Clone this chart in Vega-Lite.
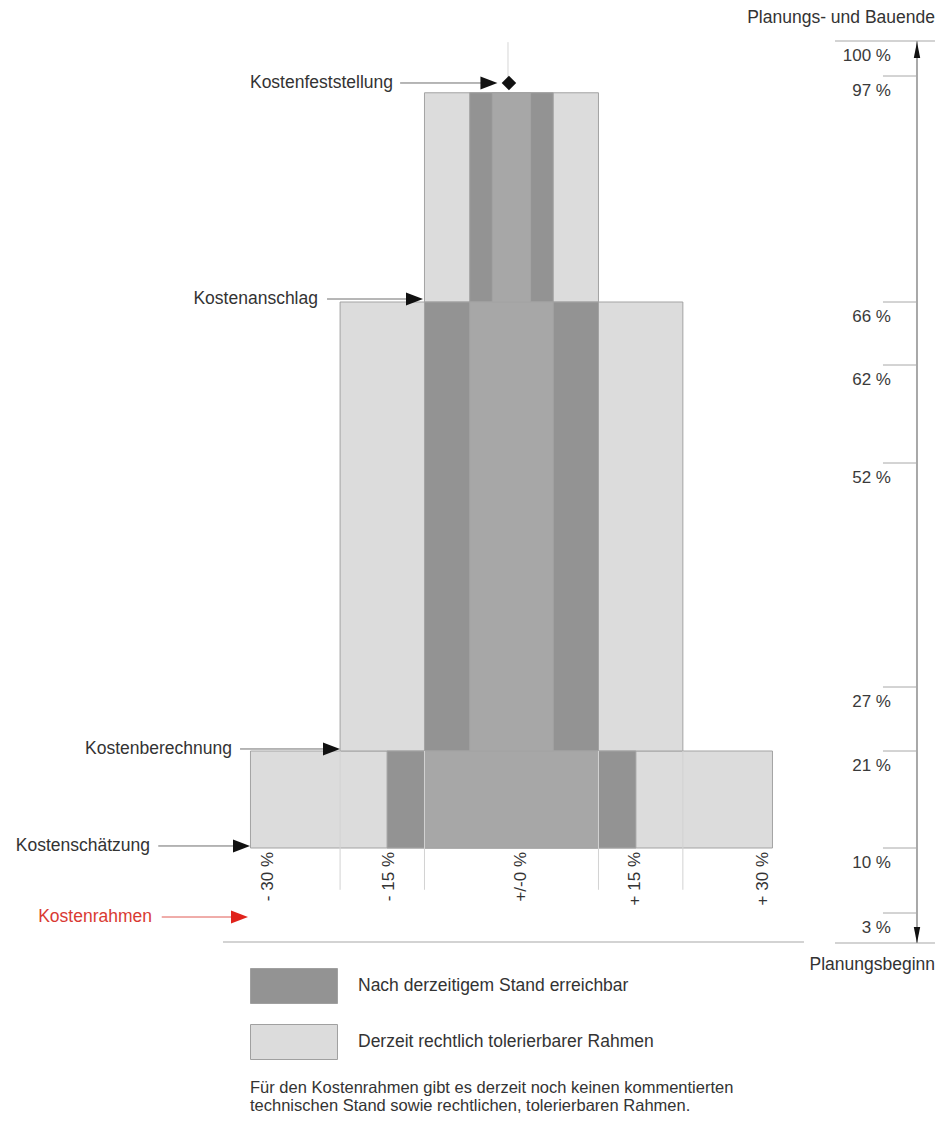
{
  "$schema": "https://vega.github.io/schema/vega-lite/v6.json",
  "width": 941,
  "height": 1121,
  "padding": 0,
  "autosize": {"type": "none"},
  "background": "white",
  "config": {"view": {"stroke": null}},
  "datasets": {
    "boxes": [
      {"stage": "Kostenschätzung", "kind": "Derzeit rechtlich tolerierbarer Rahmen", "x": -30, "x2": 30, "y": 10, "y2": 21},
      {"stage": "Kostenberechnung", "kind": "Derzeit rechtlich tolerierbarer Rahmen", "x": -19.7, "x2": 19.7, "y": 21, "y2": 66},
      {"stage": "Kostenanschlag", "kind": "Derzeit rechtlich tolerierbarer Rahmen", "x": -10, "x2": 10, "y": 66, "y2": 94.7},
      {"stage": "Kostenschätzung", "kind": "Nach derzeitigem Stand erreichbar", "x": -14.3, "x2": 14.3, "y": 10, "y2": 21},
      {"stage": "Kostenberechnung", "kind": "Nach derzeitigem Stand erreichbar", "x": -10, "x2": 10, "y": 21, "y2": 66},
      {"stage": "Kostenanschlag", "kind": "Nach derzeitigem Stand erreichbar", "x": -4.8, "x2": 4.8, "y": 66, "y2": 94.7},
      {"stage": "Kostenschätzung", "kind": "Überlagerung", "x": -10, "x2": 10, "y": 10, "y2": 21},
      {"stage": "Kostenberechnung", "kind": "Überlagerung", "x": -4.8, "x2": 4.8, "y": 21, "y2": 66},
      {"stage": "Kostenanschlag", "kind": "Überlagerung", "x": -2.2, "x2": 2.2, "y": 66, "y2": 94.7}
    ],
    "segments": [
      {"type": "edge", "x": -19.7, "x2": -19.7, "y": 5.5, "y2": 21},
      {"type": "edge", "x": -10, "x2": -10, "y": 5.5, "y2": 21},
      {"type": "edge", "x": 10, "x2": 10, "y": 5.5, "y2": 21},
      {"type": "edge", "x": 19.7, "x2": 19.7, "y": 5.5, "y2": 21},
      {"type": "center", "x": -0.4, "x2": -0.4, "y": 96.1, "y2": 99.9},
      {"type": "arrow", "x": -12.8, "x2": -3.4, "y": 96.04, "y2": 96.04},
      {"type": "arrow", "x": -21.2, "x2": -11.7, "y": 66.41, "y2": 66.41},
      {"type": "arrow", "x": -31.2, "x2": -21.2, "y": 21.19, "y2": 21.19},
      {"type": "arrow", "x": -40.6, "x2": -31.4, "y": 10.23, "y2": 10.23},
      {"type": "arrowred", "x": -40.2, "x2": -31.7, "y": 2.6, "y2": 2.6},
      {"type": "axis", "x": 46.61, "x2": 46.61, "y": 0, "y2": 100},
      {"type": "frame", "x": 37.18, "x2": 48.68, "y": 100, "y2": 100},
      {"type": "frame", "x": 37.18, "x2": 48.68, "y": 0, "y2": 0},
      {"type": "base", "x": -33.16, "x2": 33.62, "y": 0.1, "y2": 0.1}
    ],
    "heads": [
      {"type": "arrow", "stage": "Kostenfeststellung", "x": -2.59, "y": 96.04},
      {"type": "arrow", "stage": "Kostenanschlag", "x": -11.15, "y": 66.41},
      {"type": "arrow", "stage": "Kostenberechnung", "x": -20.69, "y": 21.19},
      {"type": "arrow", "stage": "Kostenschätzung", "x": -31.03, "y": 10.23},
      {"type": "arrowred", "stage": "Kostenrahmen", "x": -31.26, "y": 2.6},
      {"type": "diamond", "stage": "Kostenfeststellung", "x": -0.29, "y": 96.04},
      {"type": "up", "stage": "Planungs- und Bauende", "x": 46.61, "y": 99.23},
      {"type": "down", "stage": "Planungsbeginn", "x": 46.61, "y": 0.8}
    ],
    "stages": [
      {"label": "Kostenfeststellung", "x": -13.62, "y": 96.04, "red": false},
      {"label": "Kostenanschlag", "x": -22.24, "y": 66.41, "red": false},
      {"label": "Kostenberechnung", "x": -32.13, "y": 21.19, "red": false},
      {"label": "Kostenschätzung", "x": -41.55, "y": 10.23, "red": false},
      {"label": "Kostenrahmen", "x": -41.32, "y": 2.6, "red": true}
    ],
    "phases": [
      {"label": "100 %", "x": 43.62, "y": 100},
      {"label": "97 %", "x": 43.62, "y": 97},
      {"label": "66 %", "x": 43.62, "y": 66},
      {"label": "62 %", "x": 43.62, "y": 62},
      {"label": "52 %", "x": 43.62, "y": 52},
      {"label": "27 %", "x": 43.62, "y": 27},
      {"label": "21 %", "x": 43.62, "y": 21},
      {"label": "10 %", "x": 43.62, "y": 10},
      {"label": "3 %", "x": 43.62, "y": 3}
    ],
    "ticks": [
      {"x": 42.7, "x2": 46.61, "y": 97},
      {"x": 42.7, "x2": 46.61, "y": 66},
      {"x": 42.7, "x2": 46.61, "y": 62},
      {"x": 42.7, "x2": 46.61, "y": 52},
      {"x": 42.7, "x2": 46.61, "y": 27},
      {"x": 42.7, "x2": 46.61, "y": 21},
      {"x": 42.7, "x2": 46.61, "y": 10},
      {"x": 42.7, "x2": 46.61, "y": 3}
    ],
    "ends": [
      {"label": "Planungs- und Bauende", "x": 48.68, "y": 103.4},
      {"label": "Planungsbeginn", "x": 48.68, "y": -2.22}
    ],
    "deviation": [
      {"label": "- 30 %", "x": -27.99, "y": 9.57},
      {"label": "- 15 %", "x": -14.08, "y": 9.57},
      {"label": "+/-0 %", "x": 1.09, "y": 9.57},
      {"label": "+ 15 %", "x": 14.2, "y": 9.57},
      {"label": "+ 30 %", "x": 28.9, "y": 9.57}
    ]
  },
  "encoding": {
    "x": {"field": "x", "type": "quantitative", "axis": null,
          "scale": {"domain": [-58.79, 49.37], "nice": false, "zero": false}},
    "y": {"field": "y", "type": "quantitative", "axis": null,
          "scale": {"domain": [-18, 0, 3, 10, 21, 27, 52, 62, 66, 97, 100, 106],
                    "range": [1121, 943, 913, 848, 751, 687, 463, 365, 302, 76, 41, 0],
                    "nice": false, "zero": false}}
  },
  "layer": [
    {
      "data": {"name": "boxes"},
      "mark": {"type": "rect", "stroke": "#a3a3a3", "strokeWidth": 1, "opacity": 1},
      "encoding": {
        "x2": {"field": "x2"},
        "y2": {"field": "y2"},
        "fill": {
          "field": "kind", "type": "nominal",
          "scale": {"domain": ["Nach derzeitigem Stand erreichbar", "Derzeit rechtlich tolerierbarer Rahmen", "Überlagerung"],
                    "range": ["#939393", "#dcdcdc", "#a7a7a7"]},
          "legend": {
            "values": ["Nach derzeitigem Stand erreichbar", "Derzeit rechtlich tolerierbarer Rahmen"],
            "orient": "none", "legendX": 250, "legendY": 968,
            "title": ["Für den Kostenrahmen gibt es derzeit noch keinen kommentierten", "technischen Stand sowie rechtlichen, tolerierbaren Rahmen."],
            "titleOrient": "bottom", "titleAnchor": "start", "titleFont": "Liberation Sans",
            "titleFontSize": 16.5, "titleFontWeight": "normal", "titleColor": "#333333",
            "titleLimit": 0, "titlePadding": 18, "titleLineHeight": 17.5,
            "symbolType": "M-1,-1H3.971V1H-1Z", "symbolSize": 1225,
            "symbolStrokeColor": "#a0a0a0", "symbolStrokeWidth": 1, "symbolOpacity": 1,
            "labelFont": "Liberation Sans", "labelFontSize": 17.5, "labelColor": "#333333",
            "labelOffset": 72, "labelLimit": 0, "rowPadding": 16
          }
        }
      }
    },
    {
      "data": {"name": "segments"},
      "transform": [{"filter": "datum.type == 'edge'"}],
      "mark": {"type": "rule", "color": "#d2d2d2", "strokeWidth": 1},
      "encoding": {"x2": {"field": "x2"}, "y2": {"field": "y2"}}
    },
    {
      "data": {"name": "segments"},
      "transform": [{"filter": "datum.type == 'center'"}],
      "mark": {"type": "rule", "color": "#d6d6d6", "strokeWidth": 1},
      "encoding": {"x2": {"field": "x2"}, "y2": {"field": "y2"}}
    },
    {
      "data": {"name": "segments"},
      "transform": [{"filter": "datum.type == 'arrow'"}],
      "mark": {"type": "rule", "color": "#6e6e6e", "strokeWidth": 1},
      "encoding": {"x2": {"field": "x2"}, "y2": {"field": "y2"}}
    },
    {
      "data": {"name": "segments"},
      "transform": [{"filter": "datum.type == 'arrowred'"}],
      "mark": {"type": "rule", "color": "#e05a55", "strokeWidth": 1},
      "encoding": {"x2": {"field": "x2"}, "y2": {"field": "y2"}}
    },
    {
      "data": {"name": "segments"},
      "transform": [{"filter": "datum.type == 'axis'"}],
      "mark": {"type": "rule", "color": "#a8a8a8", "strokeWidth": 2},
      "encoding": {"x2": {"field": "x2"}, "y2": {"field": "y2"}}
    },
    {
      "data": {"name": "segments"},
      "transform": [{"filter": "datum.type == 'frame' || datum.type == 'base'"}],
      "mark": {"type": "rule", "color": "#a8a8a8", "strokeWidth": 1.2},
      "encoding": {"x2": {"field": "x2"}, "y2": {"field": "y2"}}
    },
    {
      "data": {"name": "ticks"},
      "mark": {"type": "rule", "color": "#a8a8a8", "strokeWidth": 1},
      "encoding": {"x2": {"field": "x2"}}
    },
    {
      "data": {"name": "heads"},
      "transform": [{"filter": "datum.type == 'arrow'"}],
      "mark": {"type": "point", "shape": "M-1,-0.76L1,0L-1,0.76Z", "size": 289, "filled": true, "color": "#111111", "opacity": 1}
    },
    {
      "data": {"name": "heads"},
      "transform": [{"filter": "datum.type == 'arrowred'"}],
      "mark": {"type": "point", "shape": "M-1,-0.76L1,0L-1,0.76Z", "size": 289, "filled": true, "color": "#e0231c", "opacity": 1}
    },
    {
      "data": {"name": "heads"},
      "transform": [{"filter": "datum.type == 'diamond'"}],
      "mark": {"type": "point", "shape": "diamond", "size": 210, "filled": true, "color": "#111111", "opacity": 1}
    },
    {
      "data": {"name": "heads"},
      "transform": [{"filter": "datum.type == 'up'"}],
      "mark": {"type": "point", "shape": "M0,-1L0.4,1L-0.4,1Z", "size": 256, "filled": true, "color": "#111111", "opacity": 1}
    },
    {
      "data": {"name": "heads"},
      "transform": [{"filter": "datum.type == 'down'"}],
      "mark": {"type": "point", "shape": "M0,1L0.4,-1L-0.4,-1Z", "size": 256, "filled": true, "color": "#111111", "opacity": 1}
    },
    {
      "data": {"name": "stages"},
      "mark": {"type": "text", "align": "right", "baseline": "middle", "font": "Liberation Sans", "fontSize": 17.5},
      "encoding": {
        "text": {"field": "label"},
        "color": {"condition": {"test": "datum.red", "value": "#d93a33"}, "value": "#333333"}
      }
    },
    {
      "data": {"name": "phases"},
      "mark": {"type": "text", "align": "right", "baseline": "middle", "dy": 15, "font": "Liberation Sans", "fontSize": 17, "color": "#3a3a3a"},
      "encoding": {"text": {"field": "label"}}
    },
    {
      "data": {"name": "ends"},
      "mark": {"type": "text", "align": "right", "baseline": "middle", "font": "Liberation Sans", "fontSize": 17.5, "color": "#333333"},
      "encoding": {"text": {"field": "label"}}
    },
    {
      "data": {"name": "deviation"},
      "mark": {"type": "text", "align": "right", "baseline": "middle", "angle": 270, "font": "Liberation Sans", "fontSize": 17, "color": "#333333"},
      "encoding": {"text": {"field": "label"}}
    }
  ]
}
